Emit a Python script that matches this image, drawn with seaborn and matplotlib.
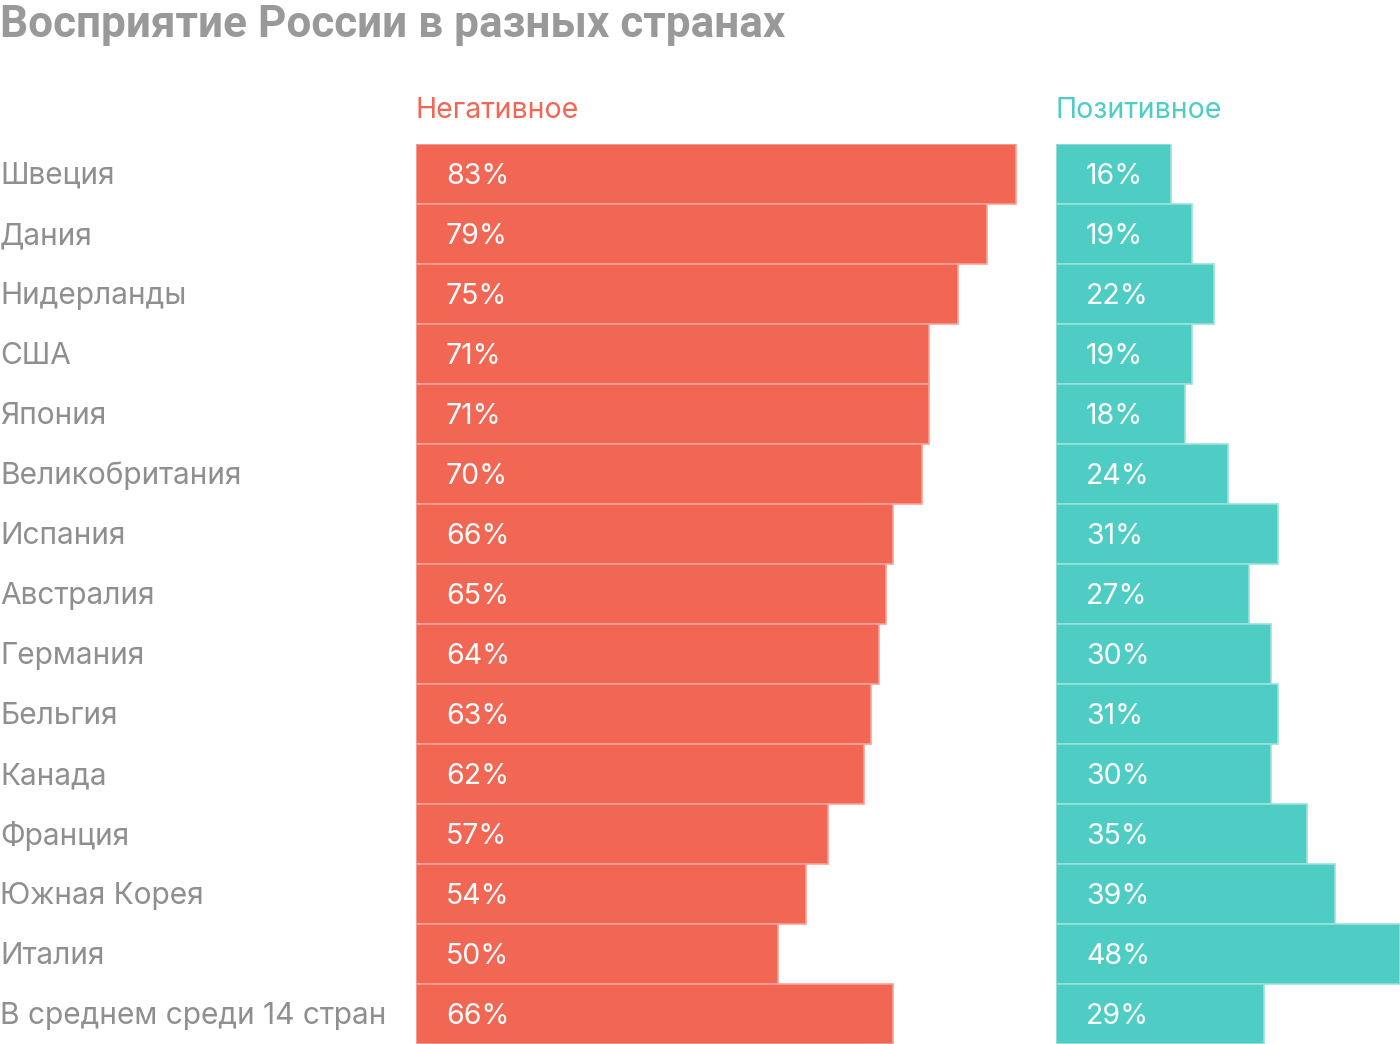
import matplotlib.pyplot as plt
import matplotlib.transforms as mtransforms
import seaborn as sns
import pandas as pd

sns.set_style('white')
plt.rcParams['font.family'] = ['Inter', 'Roboto', 'DejaVu Sans']

countries = ['Швеция', 'Дания', 'Нидерланды', 'США', 'Япония', 'Великобритания',
             'Испания', 'Австралия', 'Германия', 'Бельгия', 'Канада', 'Франция',
             'Южная Корея', 'Италия', 'В среднем среди 14 стран']
negative = [83, 79, 75, 71, 71, 70, 66, 65, 64, 63, 62, 57, 54, 50, 66]
positive = [16, 19, 22, 19, 18, 24, 31, 27, 30, 31, 30, 35, 39, 48, 29]

RED = '#F26654'
RED_EDGE = '#F8A397'
TEAL = '#4ECDC4'
TEAL_EDGE = '#9BE2DC'
GRAY = '#8f8f8f'

df = pd.DataFrame({'country': countries, 'neg': negative, 'pos': positive})

W, H = 1400, 1044
fig = plt.figure(figsize=(W / 100, H / 100), dpi=100)

top = 144
ax_neg = fig.add_axes([416 / W, 0, 624 / W, (H - top) / H])
ax_pos = fig.add_axes([1056 / W, 0, 344 / W, (H - top) / H])

sns.barplot(data=df, x='neg', y='country', ax=ax_neg, color=RED, width=1.0,
            edgecolor=RED_EDGE, linewidth=1.2, saturation=1)
sns.barplot(data=df, x='pos', y='country', ax=ax_pos, color=TEAL, width=1.0,
            edgecolor=TEAL_EDGE, linewidth=1.2, saturation=1)

ax_neg.set_xlim(0, 624 / 7.23)
ax_pos.set_xlim(0, 344 / 7.16)

for ax, vals in ((ax_neg, negative), (ax_pos, positive)):
    ax.set_ylim(len(countries) - 0.5, -0.5)
    ax.axis('off')
    # value labels sit 30px inside the bar start
    tr = mtransforms.offset_copy(
        mtransforms.blended_transform_factory(ax.transAxes, ax.transData),
        fig=fig, x=30, y=-2, units='dots')
    for i, v in enumerate(vals):
        ax.text(0, i, f'{v}%', transform=tr, color='white', fontsize=20.5,
                va='center', ha='left')

trans = mtransforms.offset_copy(
    mtransforms.blended_transform_factory(fig.transFigure, ax_neg.transData),
    fig=fig, x=0, y=-2, units='dots')
for i, c in enumerate(countries):
    fig.text(0, i, c, transform=trans, color=GRAY, fontsize=21.5, va='center', ha='left')

fig.text(416 / W, 1 - 111 / H, 'Негативное', color=RED, fontsize=20.5, va='center', ha='left')
fig.text(1056 / W, 1 - 111 / H, 'Позитивное', color=TEAL, fontsize=20.5, va='center', ha='left')

fig.text(0, 1 - 25 / H, 'Восприятие России в разных странах', color='#999999',
         fontsize=31.8, fontweight='bold', va='center', ha='left',
         family=['Roboto', 'DejaVu Sans'])

fig.savefig('out.png', dpi=100)
